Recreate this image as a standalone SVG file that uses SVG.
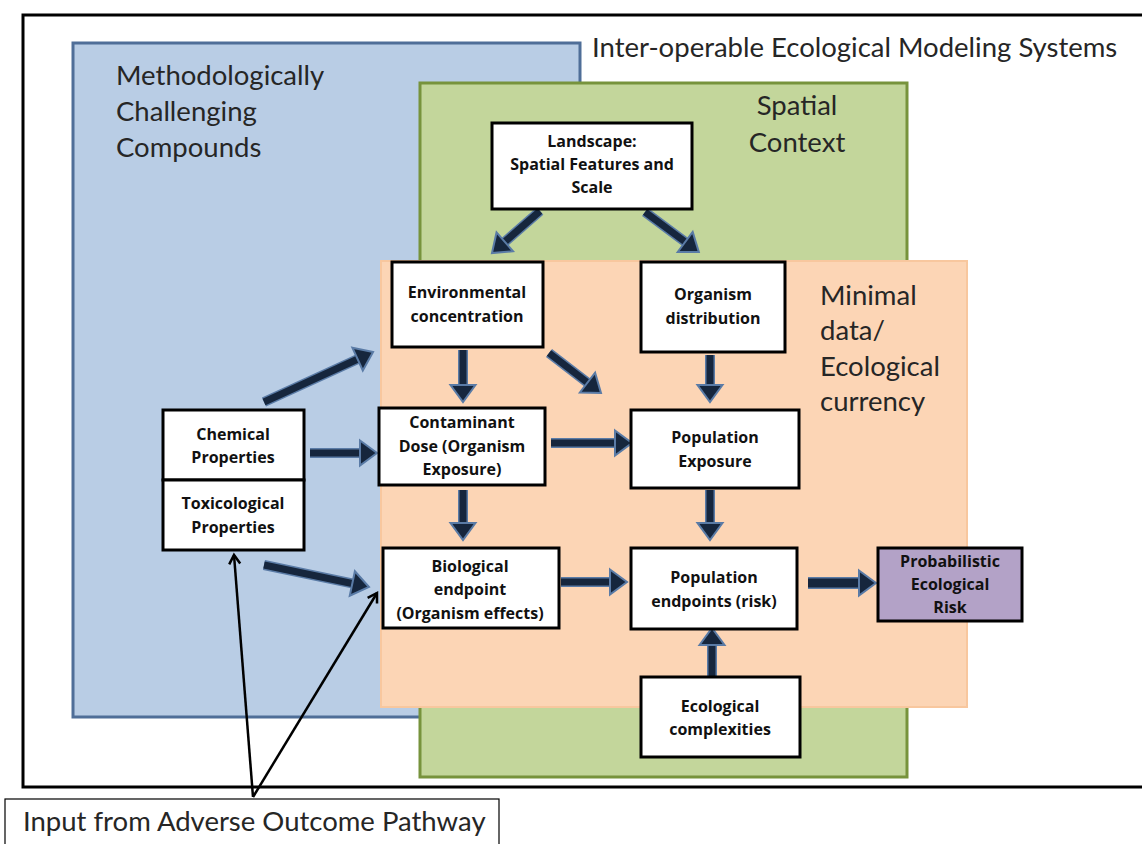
<svg xmlns="http://www.w3.org/2000/svg" width="1142" height="844" viewBox="0 0 1142 844">
<defs>
<style>
.big{font-family:Lato,"Liberation Sans",sans-serif;font-size:27.5px;fill:#262626}
.lbl{font-family:"Open Sans","Liberation Sans",sans-serif;font-size:16px;font-weight:bold;fill:#111;text-anchor:middle}
.box{fill:#fff;stroke:#000;stroke-width:3}
.under{stroke:#5A7BA6;stroke-width:10;fill:none}
.shaft{stroke:#16263D;stroke-width:7;fill:none;marker-end:url(#head)}
.thin{stroke:#000;stroke-width:2.5;fill:none;marker-end:url(#open)}
</style>
<marker id="head" markerUnits="userSpaceOnUse" viewBox="-4 -16 28 32" markerWidth="28" markerHeight="32" refX="0" refY="0" orient="auto">
<path d="M-1,-12.5 L16,0 L-1,12.5 Z" fill="#16263D" stroke="#5A7BA6" stroke-width="2" stroke-linejoin="miter"/>
</marker>
<marker id="open" markerUnits="userSpaceOnUse" viewBox="-12 -8 16 16" markerWidth="16" markerHeight="16" refX="0" refY="0" orient="auto">
<path d="M-9,-5.5 L0,0 L-9,5.5" fill="none" stroke="#000" stroke-width="2.5"/>
</marker>
</defs>
<rect width="1142" height="844" fill="#fff"/>

<g id="frame">
<rect x="23" y="15" width="1135" height="772" fill="none" stroke="#000" stroke-width="3"/>
<text class="big" x="592" y="57">Inter-operable Ecological Modeling Systems</text>
</g>

<g id="region-compounds">
<rect x="73" y="43" width="507" height="674" fill="#B9CDE5" stroke="#4F6E98" stroke-width="3"/>
<text class="big" x="116" y="85">Methodologically</text>
<text class="big" x="116" y="121">Challenging</text>
<text class="big" x="116" y="157">Compounds</text>
</g>

<g id="region-spatial">
<rect x="420" y="83" width="487" height="694" fill="#C3D69B" stroke="#77933C" stroke-width="3"/>
<text class="big" x="797" y="115" text-anchor="middle">Spatial</text>
<text class="big" x="797" y="152" text-anchor="middle">Context</text>
</g>

<g id="region-minimal">
<rect x="381" y="261" width="586" height="446" fill="#FCD5B5" stroke="#F8C79E" stroke-width="2"/>
<text class="big" x="820" y="305">Minimal</text>
<text class="big" x="820" y="340">data/</text>
<text class="big" x="820" y="376">Ecological</text>
<text class="big" x="820" y="411">currency</text>
</g>

<g id="connectors">
<g>
<line class="under" x1="540" y1="211" x2="504" y2="242.5"/>
<line class="shaft" x1="540" y1="211" x2="504" y2="242.5"/>
<line class="under" x1="645" y1="212" x2="686" y2="242.5"/>
<line class="shaft" x1="645" y1="212" x2="686" y2="242.5"/>
<line class="under" x1="264" y1="402" x2="358.5" y2="358.7"/>
<line class="shaft" x1="264" y1="402" x2="358.5" y2="358.7"/>
<line class="under" x1="463" y1="350" x2="463" y2="386"/>
<line class="shaft" x1="463" y1="350" x2="463" y2="386"/>
<line class="under" x1="310" y1="453" x2="361" y2="453"/>
<line class="shaft" x1="310" y1="453" x2="361" y2="453"/>
<line class="under" x1="463" y1="490" x2="463" y2="524"/>
<line class="shaft" x1="463" y1="490" x2="463" y2="524"/>
<line class="under" x1="264" y1="565" x2="353.3" y2="583.7"/>
<line class="shaft" x1="264" y1="565" x2="353.3" y2="583.7"/>
<line class="under" x1="549" y1="353" x2="588.3" y2="383.2"/>
<line class="shaft" x1="549" y1="353" x2="588.3" y2="383.2"/>
<line class="under" x1="551" y1="443" x2="616" y2="443"/>
<line class="shaft" x1="551" y1="443" x2="616" y2="443"/>
<line class="under" x1="710" y1="355" x2="710" y2="386"/>
<line class="shaft" x1="710" y1="355" x2="710" y2="386"/>
<line class="under" x1="710" y1="490" x2="710" y2="524"/>
<line class="shaft" x1="710" y1="490" x2="710" y2="524"/>
<line class="under" x1="561" y1="582" x2="611" y2="582"/>
<line class="shaft" x1="561" y1="582" x2="611" y2="582"/>
<line class="under" x1="808" y1="583" x2="860" y2="583" style="stroke-width:12"/>
<line class="shaft" x1="808" y1="583" x2="860" y2="583" style="stroke-width:9"/>
<line class="under" x1="712" y1="678" x2="712" y2="644"/>
<line class="shaft" x1="712" y1="678" x2="712" y2="644"/>
</g>
<line class="thin" x1="253" y1="797" x2="234" y2="555"/>
<line class="thin" x1="253" y1="797" x2="377" y2="593"/>
</g>

<g id="n-landscape">
<rect class="box" x="492" y="123" width="200" height="86"/>
<text class="lbl" x="592" y="147">Landscape:</text>
<text class="lbl" x="592" y="170">Spatial Features and</text>
<text class="lbl" x="592" y="193">Scale</text>
</g>

<g id="n-env">
<rect class="box" x="392" y="262" width="151" height="85"/>
<text class="lbl" x="467" y="298">Environmental</text>
<text class="lbl" x="467" y="322">concentration</text>
</g>

<g id="n-orgdist">
<rect class="box" x="641" y="262" width="144" height="90"/>
<text class="lbl" x="713" y="300">Organism</text>
<text class="lbl" x="713" y="324">distribution</text>
</g>

<g id="n-chem">
<rect class="box" x="163" y="410" width="141" height="70"/>
<text class="lbl" x="233" y="440">Chemical</text>
<text class="lbl" x="233" y="463">Properties</text>
</g>

<g id="n-tox">
<rect class="box" x="163" y="480" width="141" height="70"/>
<text class="lbl" x="233" y="509">Toxicological</text>
<text class="lbl" x="233" y="533">Properties</text>
</g>

<g id="n-dose">
<rect class="box" x="379" y="408" width="166" height="77"/>
<text class="lbl" x="462" y="428">Contaminant</text>
<text class="lbl" x="462" y="452">Dose (Organism</text>
<text class="lbl" x="462" y="475">Exposure)</text>
</g>

<g id="n-popexp">
<rect class="box" x="631" y="410" width="168" height="78"/>
<text class="lbl" x="715" y="443">Population</text>
<text class="lbl" x="715" y="467">Exposure</text>
</g>

<g id="n-bio">
<rect class="box" x="383" y="548" width="176" height="80"/>
<text class="lbl" x="470" y="572">Biological</text>
<text class="lbl" x="470" y="595">endpoint</text>
<text class="lbl" x="470" y="619">(Organism effects)</text>
</g>

<g id="n-popend">
<rect class="box" x="631" y="548" width="166" height="81"/>
<text class="lbl" x="714" y="583">Population</text>
<text class="lbl" x="714" y="607">endpoints (risk)</text>
</g>

<g id="n-risk">
<rect class="box" x="878" y="548" width="144" height="73" style="fill:#B3A2C7"/>
<text class="lbl" x="950" y="567">Probabilistic</text>
<text class="lbl" x="950" y="590">Ecological</text>
<text class="lbl" x="950" y="613">Risk</text>
</g>

<g id="n-ecocomplex">
<rect class="box" x="641" y="677" width="159" height="80"/>
<text class="lbl" x="720" y="712">Ecological</text>
<text class="lbl" x="720" y="735">complexities</text>
</g>

<g id="n-aop">
<rect x="5" y="799" width="494" height="60" fill="#fff" stroke="#000" stroke-width="1.2"/>
<text class="big" x="23" y="831">Input from Adverse Outcome Pathway</text>
</g>
</svg>
